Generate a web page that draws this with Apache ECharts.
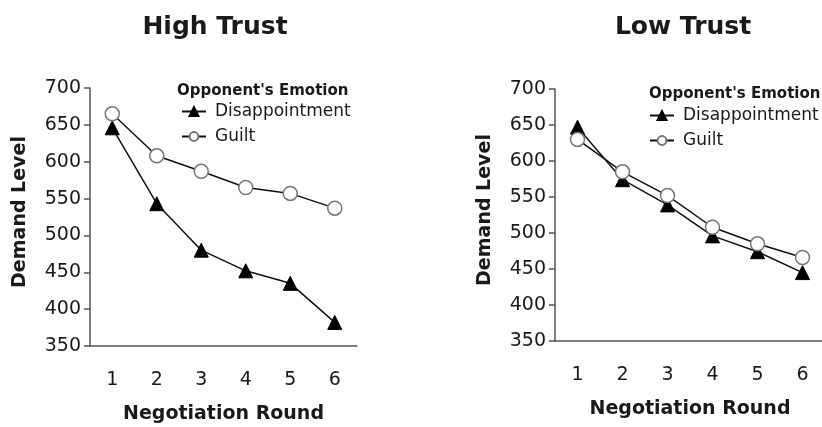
<!DOCTYPE html>
<html>
<head>
<meta charset="utf-8">
<script src="https://cdn.jsdelivr.net/npm/echarts@6/dist/echarts.min.js"></script>
<style>
  html, body { margin: 0; padding: 0; background: #fff; }
  #chart { width: 822px; height: 427px; }
</style>
</head>
<body>
<div id="chart"></div>
<script>
const rounds = ['1', '2', '3', '4', '5', '6']
const highDisappointment = [646, 543, 480, 452, 435, 382]
const highGuilt = [665, 608, 587, 565, 557, 537]
const lowDisappointment = [647, 574, 539, 496, 474, 445]
const lowGuilt = [630, 585, 552, 508, 485, 466]

const font = 'DejaVu Sans'
const ink = '#1a1a1a'

function yAxis(gridIndex) {
  return {
    type: 'value',
    gridIndex: gridIndex,
    min: 350,
    max: 700,
    interval: 50,
    name: 'Demand Level',
    nameLocation: 'middle',
    nameGap: 60,
    nameTextStyle: { fontFamily: font, fontSize: 19, fontWeight: 'bold', color: ink, padding: [0, 0, 0, 10] },
    axisLine: { show: true, lineStyle: { color: '#555', width: 1.5 } },
    axisTick: { show: true, length: 6, lineStyle: { color: '#555', width: 1.5 } },
    axisLabel: { fontFamily: font, fontSize: 19, color: ink, margin: 9 },
    splitLine: { show: false }
  }
}

function xAxis(gridIndex) {
  return {
    type: 'category',
    gridIndex: gridIndex,
    data: rounds,
    boundaryGap: true,
    name: 'Negotiation Round',
    nameLocation: 'middle',
    nameGap: 59,
    nameTextStyle: { fontFamily: font, fontSize: 19, fontWeight: 'bold', color: ink },
    axisLine: { show: true, lineStyle: { color: '#555', width: 1.5 } },
    axisTick: { show: false },
    axisLabel: { fontFamily: font, fontSize: 19, color: ink, margin: 25 },
    splitLine: { show: false }
  }
}

function disappointment(idx, data) {
  return {
    name: 'Disappointment',
    type: 'line',
    xAxisIndex: idx,
    yAxisIndex: idx,
    data: data,
    symbol: 'triangle',
    symbolSize: 14,
    lineStyle: { color: '#111', width: 1.5 },
    itemStyle: { color: '#000', borderColor: '#000', borderWidth: 1 },
    z: 2
  }
}

function guilt(idx, data) {
  return {
    name: 'Guilt',
    type: 'line',
    xAxisIndex: idx,
    yAxisIndex: idx,
    data: data,
    symbol: 'circle',
    symbolSize: 14,
    lineStyle: { color: '#111', width: 1.5 },
    itemStyle: { color: '#fff', borderColor: '#777', borderWidth: 1.5 },
    z: 3
  }
}

function legend(left, top) {
  return {
    orient: 'vertical',
    left: left,
    top: top,
    itemWidth: 24,
    itemHeight: 11,
    itemGap: 8,
    selectedMode: false,
    textStyle: { fontFamily: font, fontSize: 17, color: ink, padding: [0, 0, 0, 4] },
    data: ['Disappointment', 'Guilt']
  }
}

const chart = echarts.init(document.getElementById('chart'))
chart.setOption({
  animation: false,
  backgroundColor: '#fff',
  title: [
    { text: 'High Trust', left: 210, top: 10, textAlign: 'center',
      textStyle: { fontFamily: font, fontSize: 25, fontWeight: 'bold', color: ink } },
    { text: 'Low Trust', left: 678, top: 10, textAlign: 'center',
      textStyle: { fontFamily: font, fontSize: 25, fontWeight: 'bold', color: ink } },
    { text: "Opponent's Emotion", left: 172, top: 79,
      textStyle: { fontFamily: font, fontSize: 15, fontWeight: 'bold', color: ink } },
    { text: "Opponent's Emotion", left: 644, top: 82,
      textStyle: { fontFamily: font, fontSize: 15, fontWeight: 'bold', color: ink } }
  ],
  legend: [legend(176, 98), legend(644, 102)],
  grid: [
    { left: 90, top: 88, width: 267, height: 258, outerBoundsMode: 'none' },
    { left: 555, top: 89, width: 270, height: 252, outerBoundsMode: 'none' }
  ],
  xAxis: [xAxis(0), xAxis(1)],
  yAxis: [yAxis(0), yAxis(1)],
  series: [
    disappointment(0, highDisappointment),
    guilt(0, highGuilt),
    disappointment(1, lowDisappointment),
    guilt(1, lowGuilt)
  ]
})
</script>
</body>
</html>
